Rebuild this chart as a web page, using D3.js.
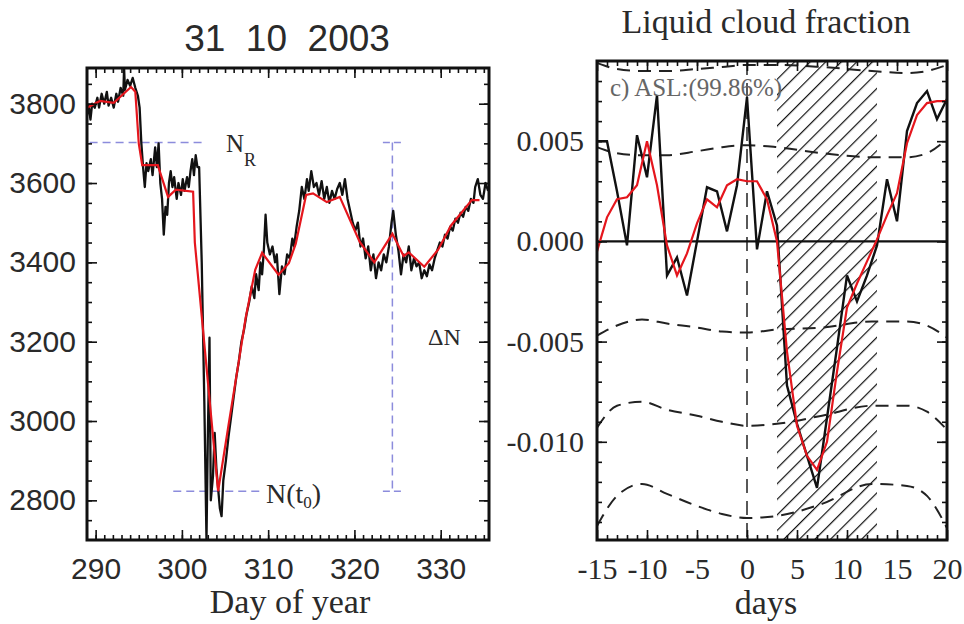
<!DOCTYPE html>
<html>
<head>
<meta charset="utf-8">
<script src="https://cdn.jsdelivr.net/npm/d3@7.9.0/dist/d3.min.js"></script>
<style>
  body { margin: 0; background: #fff; }
  svg { display: block; }
</style>
</head>
<body>
<div id="chart"></div>
<script>
// ---- left panel: counts around 31 10 2003 ----
const countDays = [
  289.0, 289.2, 289.4, 289.6, 289.9, 290.2, 290.4, 290.7, 291.0, 291.3, 291.5, 291.8, 292.1, 292.4, 292.6, 292.9,
  293.2, 293.3, 293.4, 293.7, 294.0, 294.3, 294.6, 294.9, 295.1, 295.3, 295.5, 295.7, 295.9, 296.1, 296.4, 296.6,
  296.9, 297.1, 297.3, 297.5, 297.7, 297.9, 298.1, 298.3, 298.5, 298.7, 298.9, 299.1, 299.4, 299.6, 299.9, 300.1,
  300.3, 300.6, 300.8, 301.0, 301.2, 301.4, 301.6, 301.8, 302.0, 302.3, 302.6, 302.85, 303.0, 303.2, 303.35, 303.6,
  303.8, 304.0, 304.2, 304.4, 304.6, 304.8, 305.1, 305.4, 305.7, 306.0, 306.3, 306.6, 306.9, 307.2, 307.5, 307.8,
  308.1, 308.4, 308.6, 308.9, 309.1, 309.3, 309.5, 309.7, 309.9, 310.2, 310.5, 310.8, 311.0, 311.3, 311.6, 311.9,
  312.2, 312.5, 312.8, 313.0, 313.3, 313.6, 313.9, 314.2, 314.5, 314.7, 315.0, 315.3, 315.6, 315.9, 316.2, 316.5,
  316.8, 317.1, 317.4, 317.7, 318.0, 318.3, 318.6, 318.9, 319.2, 319.5, 319.8, 320.1, 320.4, 320.7, 321.0, 321.3,
  321.6, 321.9, 322.2, 322.5, 322.8, 323.1, 323.4, 323.7, 324.0, 324.3, 324.5, 324.8, 325.1, 325.4, 325.7, 326.0,
  326.3, 326.6, 326.9, 327.2, 327.5, 327.8, 328.1, 328.4, 328.7, 329.0, 329.3, 329.6, 329.9, 330.2, 330.5, 330.8,
  331.1, 331.4, 331.7, 332.0, 332.3, 332.6, 332.9, 333.2, 333.5, 333.8, 334.0, 334.3, 334.6, 334.9, 335.2, 335.5
];
const countValues = [
  3770, 3795, 3760, 3800, 3790, 3815, 3790, 3825, 3800, 3830, 3795, 3815, 3790, 3825, 3805, 3840,
  3820, 3890, 3835, 3860, 3845, 3865, 3840, 3820, 3790, 3700, 3640, 3590, 3650, 3630, 3660, 3620,
  3690, 3640, 3700, 3600, 3560, 3470, 3540, 3520, 3600, 3630, 3590, 3615, 3560, 3600, 3570, 3610,
  3580, 3615, 3590, 3630, 3660, 3620, 3670, 3640, 3640, 3400, 3050, 2700, 2950, 3210, 2800, 2860,
  2970, 2880, 2830, 2780, 2760, 2850, 2900, 2960, 3010, 3060, 3110, 3150, 3200, 3230, 3270, 3300,
  3340, 3310, 3370, 3330, 3400, 3370, 3430, 3520, 3450, 3420, 3440, 3400, 3420, 3320, 3390, 3370,
  3420, 3410, 3460, 3440, 3490, 3530, 3590, 3560, 3610, 3580, 3630, 3590, 3600, 3570, 3605, 3560,
  3590, 3550, 3580, 3560, 3585, 3600, 3570, 3610, 3560, 3530, 3500, 3480, 3500, 3440, 3460, 3410,
  3440, 3380, 3420, 3360, 3400, 3380, 3420, 3400, 3440, 3500, 3530, 3470, 3430, 3370, 3420, 3400,
  3440, 3380, 3410, 3390, 3400, 3360, 3380, 3365, 3395, 3380, 3410, 3430, 3450, 3440, 3470, 3460,
  3490, 3480, 3510, 3500, 3525, 3515, 3540, 3530, 3560, 3550, 3590, 3610, 3570, 3560, 3600, 3580
];
const smoothDays = [
  289.0, 290.5, 292.1, 294.1, 294.6, 295.0, 295.4, 297.2, 298.4, 299.3, 301.3, 301.5, 304.2, 305.4, 306.6, 307.4,
  308.5, 309.3, 311.2, 312.4, 313.2, 314.4, 315.2, 316.8, 318.3, 320.6, 322.3, 324.4, 325.7, 326.3, 328.1, 329.7,
  331.2, 333.6, 334.5
];
const smoothValues = [
  3790, 3807, 3802, 3842, 3830, 3700, 3645, 3645, 3565, 3583, 3578, 3450, 2823, 2989, 3151, 3261,
  3381, 3424, 3369, 3398, 3447, 3570, 3574, 3552, 3565, 3452, 3400, 3472, 3416, 3425, 3389, 3432,
  3493, 3557, 3557
];
const leftXTicks = [290, 300, 310, 320, 330];
const leftYTicks = [2800, 3000, 3200, 3400, 3600, 3800];
const nRefLevel = 3702;   // N_R
const nMinLevel = 2823;   // N(t0)
const deltaDay = 324.4;   // where the delta-N bar sits

// ---- right panel: liquid cloud fraction (superposed epoch) ----
const epochDays = [-15, -14, -13, -12, -11, -10, -9, -8, -7, -6, -5, -4, -3, -2, -1, 0, 1, 2,
  3, 4, 5, 6, 7, 8, 9, 10, 11, 12, 13, 14, 15, 16, 17, 18, 19, 20];
const cloudAnomaly = [0.0050, 0.0050, 0.0025, -0.0002, 0.0053, 0.0032, 0.0073, -0.0017, -0.0008, -0.0027, 0.0000, 0.0027,
  0.0025, 0.0005, 0.0028, 0.0072, -0.0004, 0.0025, 0.0008, -0.0072, -0.0091, -0.0107, -0.0123, -0.0088,
  -0.0053, -0.0017, -0.0030, -0.0017, -0.0002, 0.0031, 0.0010, 0.0055, 0.0069, 0.0075, 0.0061, 0.0071];
const cloudSmooth = [-0.0005, 0.0012, 0.0021, 0.0022, 0.0028, 0.0050, 0.0028, -0.0002, -0.0017, -0.0006, 0.0009, 0.0021,
  0.0017, 0.0028, 0.0031, 0.0030, 0.0030, 0.0021, 0.0000, -0.0055, -0.0092, -0.0107, -0.0114, -0.0100,
  -0.0065, -0.0033, -0.0021, -0.0010, 0.0001, 0.0013, 0.0024, 0.0049, 0.0063, 0.0069, 0.0070, 0.0070];
const sigmaDays = [-15, -13, -10.5, -8, -5, -2.5, 0, 3, 7.5, 12.5, 16, 18, 20];
const sigmaLevels = [
  [0.0089, 0.0086, 0.0085, 0.0085, 0.0086, 0.0087, 0.0088, 0.0088, 0.0087, 0.0085, 0.0084, 0.0085, 0.0088],
  [0.0047, 0.0044, 0.0043, 0.0043, 0.0045, 0.0047, 0.0048, 0.0047, 0.0044, 0.0042, 0.0042, 0.0044, 0.0051],
  [-0.0047, -0.0042, -0.0039, -0.0041, -0.0043, -0.0045, -0.00455, -0.0044, -0.0043, -0.0040, -0.0040, -0.0042, -0.0048],
  [-0.0093, -0.0082, -0.0080, -0.0084, -0.0087, -0.0090, -0.0092, -0.0091, -0.0087, -0.0082, -0.0082, -0.0085, -0.0094],
  [-0.0142, -0.0127, -0.0121, -0.0126, -0.0132, -0.0136, -0.0138, -0.0137, -0.0131, -0.0121, -0.0122, -0.0127, -0.0143]
];
const hatchSpan = [3, 13];
const rightXTicks = [-15, -10, -5, 0, 5, 10, 15, 20];
const rightYTicks = [-0.010, -0.005, 0.000, 0.005];

const svg = d3.select('#chart')
  .append('svg')
  .attr('width', 964)
  .attr('height', 624);

const SANS = "'Liberation Sans', Arial, sans-serif";
const SERIF = "'Liberation Serif', 'Times New Roman', serif";
const INK = '#2a2a2a';

// inward ticks on all four sides, frame drawn on top
function drawFrame(x, y, opt) {
  const [x0, x1] = x.range();
  const [y1, y0] = y.range();
  const g = svg.append('g');

  const bottom = g.append('g').attr('transform', `translate(0,${y1})`)
    .call(d3.axisBottom(x).tickValues(opt.xMajor).tickSizeInner(-10).tickSizeOuter(0)
      .tickPadding(opt.xPad).tickFormat(opt.xFmt));
  g.append('g').attr('transform', `translate(0,${y1})`)
    .call(d3.axisBottom(x).tickValues(opt.xMinor).tickSizeInner(-5).tickSizeOuter(0).tickFormat(''));
  g.append('g').attr('transform', `translate(0,${y0})`)
    .call(d3.axisTop(x).tickValues(opt.xMajor).tickSizeInner(-10).tickSizeOuter(0).tickFormat(''));
  g.append('g').attr('transform', `translate(0,${y0})`)
    .call(d3.axisTop(x).tickValues(opt.xMinor).tickSizeInner(-5).tickSizeOuter(0).tickFormat(''));

  const left = g.append('g').attr('transform', `translate(${x0},0)`)
    .call(d3.axisLeft(y).tickValues(opt.yMajor).tickSizeInner(-10).tickSizeOuter(0)
      .tickPadding(opt.yPad).tickFormat(opt.yFmt));
  g.append('g').attr('transform', `translate(${x0},0)`)
    .call(d3.axisLeft(y).tickValues(opt.yMinor).tickSizeInner(-5).tickSizeOuter(0).tickFormat(''));
  g.append('g').attr('transform', `translate(${x1},0)`)
    .call(d3.axisRight(y).tickValues(opt.yMajor).tickSizeInner(-10).tickSizeOuter(0).tickFormat(''));
  g.append('g').attr('transform', `translate(${x1},0)`)
    .call(d3.axisRight(y).tickValues(opt.yMinor).tickSizeInner(-5).tickSizeOuter(0).tickFormat(''));

  g.selectAll('.domain').remove();
  g.selectAll('.tick line').attr('stroke', '#111').attr('stroke-width', 1.6);
  [bottom, left].forEach(a => a.selectAll('text')
    .attr('font-family', opt.font)
    .attr('font-size', opt.fontSize)
    .attr('fill', INK));

  g.append('rect')
    .attr('x', x0).attr('y', y0)
    .attr('width', x1 - x0).attr('height', y1 - y0)
    .attr('fill', 'none')
    .attr('stroke', '#111')
    .attr('stroke-width', 3);
}

function leftPanel() {
  const x = d3.scaleLinear().domain([289, 335.6]).range([87, 489]);
  const y = d3.scaleLinear().domain([2700, 3890]).range([540, 68]);

  svg.append('clipPath').attr('id', 'clipL')
    .append('rect').attr('x', 87).attr('y', 68).attr('width', 402).attr('height', 472);

  const line = d3.line().x(d => x(d[0])).y(d => y(d[1]));
  const blue = '#8c8cdc';

  // blue reference marks
  const marks = svg.append('g')
    .attr('stroke', blue)
    .attr('stroke-width', 1.5)
    .attr('stroke-dasharray', '8,5')
    .attr('fill', 'none');
  marks.append('line')
    .attr('x1', x(289.3)).attr('x2', x(302.3))
    .attr('y1', y(nRefLevel)).attr('y2', y(nRefLevel));
  marks.append('line')
    .attr('x1', x(299)).attr('x2', x(309))
    .attr('y1', y(nMinLevel)).attr('y2', y(nMinLevel));
  marks.append('line')
    .attr('x1', x(deltaDay)).attr('x2', x(deltaDay))
    .attr('y1', y(nRefLevel)).attr('y2', y(nMinLevel));
  [nRefLevel, nMinLevel].forEach(v => {
    svg.append('line')
      .attr('x1', x(deltaDay - 1.1)).attr('x2', x(deltaDay + 1.1))
      .attr('y1', y(v)).attr('y2', y(v))
      .attr('stroke', blue).attr('stroke-width', 1.5)
      .attr('stroke-dasharray', '7,4');
  });

  svg.append('path')
    .datum(countDays.map((d, i) => [d, countValues[i]]))
    .attr('d', line)
    .attr('clip-path', 'url(#clipL)')
    .attr('fill', 'none')
    .attr('stroke', '#111')
    .attr('stroke-width', 2.3)
    .attr('stroke-linejoin', 'round');

  svg.append('path')
    .datum(smoothDays.map((d, i) => [d, smoothValues[i]]))
    .attr('d', line)
    .attr('fill', 'none')
    .attr('stroke', '#e5161d')
    .attr('stroke-width', 2.2);

  drawFrame(x, y, {
    xMajor: leftXTicks, xMinor: d3.range(290, 336, 1),
    yMajor: leftYTicks, yMinor: d3.range(2750, 3890, 50),
    xPad: 18, yPad: 11,
    xFmt: d => d, yFmt: d => d,
    font: SANS, fontSize: 30
  });

  // annotations
  const nr = svg.append('text')
    .attr('x', 226).attr('y', 152)
    .attr('font-family', SERIF).attr('font-size', 25).attr('fill', INK);
  nr.append('tspan').text('N');
  nr.append('tspan').attr('dy', 14).attr('font-size', 18).text('R');

  const nt = svg.append('text')
    .attr('x', 266).attr('y', 503)
    .attr('font-family', SERIF).attr('font-size', 28).attr('fill', INK);
  nt.append('tspan').text('N(t');
  nt.append('tspan').attr('dy', 5).attr('font-size', 17).text('0');
  nt.append('tspan').attr('dy', -5).text(')');

  svg.append('text')
    .attr('x', 428).attr('y', 345)
    .attr('font-family', SERIF).attr('font-size', 24).attr('fill', INK)
    .text('\u0394N');

  svg.append('text')
    .attr('x', 287).attr('y', 51)
    .attr('text-anchor', 'middle')
    .attr('font-family', SANS).attr('font-size', 37).attr('fill', INK)
    .attr('xml:space', 'preserve')
    .text('31  10  2003');

  svg.append('text')
    .attr('x', 290).attr('y', 613)
    .attr('text-anchor', 'middle')
    .attr('font-family', SERIF).attr('font-size', 34).attr('fill', INK)
    .text('Day of year');
}

function rightPanel() {
  const x = d3.scaleLinear().domain([-15, 20]).range([597, 947]);
  const y = d3.scaleLinear().domain([-0.0149, 0.009]).range([540, 61]);

  const defs = svg.append('defs');
  defs.append('clipPath').attr('id', 'clipR')
    .append('rect').attr('x', 597).attr('y', 61).attr('width', 350).attr('height', 479);
  const pat = defs.append('pattern')
    .attr('id', 'hatch')
    .attr('patternUnits', 'userSpaceOnUse')
    .attr('width', 11).attr('height', 11)
    .attr('patternTransform', 'rotate(45)');
  pat.append('line')
    .attr('x1', 0).attr('y1', 0).attr('x2', 0).attr('y2', 11)
    .attr('stroke', '#111').attr('stroke-width', 2.4);

  svg.append('rect')
    .attr('x', x(hatchSpan[0])).attr('y', 61)
    .attr('width', x(hatchSpan[1]) - x(hatchSpan[0]))
    .attr('height', 479)
    .attr('fill', 'url(#hatch)');

  // significance envelopes
  const sigLine = d3.line().x((d, i) => x(sigmaDays[i])).y(d => y(d)).curve(d3.curveMonotoneX);
  svg.append('g').attr('clip-path', 'url(#clipR)')
    .selectAll('path')
    .data(sigmaLevels)
    .join('path')
    .attr('d', sigLine)
    .attr('fill', 'none')
    .attr('stroke', '#222')
    .attr('stroke-width', 2)
    .attr('stroke-dasharray', '13,8');

  svg.append('line')
    .attr('x1', x(0)).attr('x2', x(0))
    .attr('y1', 61).attr('y2', 540)
    .attr('stroke', '#222')
    .attr('stroke-width', 1.5)
    .attr('stroke-dasharray', '14,8');

  svg.append('line')
    .attr('x1', 597).attr('x2', 947)
    .attr('y1', y(0)).attr('y2', y(0))
    .attr('stroke', '#111')
    .attr('stroke-width', 2.2);

  const line = d3.line().x((d, i) => x(epochDays[i])).y(d => y(d));
  svg.append('path')
    .datum(cloudAnomaly)
    .attr('d', line)
    .attr('fill', 'none')
    .attr('stroke', '#111')
    .attr('stroke-width', 2.4);
  svg.append('path')
    .datum(cloudSmooth)
    .attr('d', line)
    .attr('fill', 'none')
    .attr('stroke', '#e5161d')
    .attr('stroke-width', 2.2);

  drawFrame(x, y, {
    xMajor: rightXTicks, xMinor: d3.range(-14, 20, 1),
    yMajor: rightYTicks, yMinor: d3.range(-0.014, 0.0085, 0.001),
    xPad: 18, yPad: 13,
    xFmt: d => d, yFmt: d => d.toFixed(3),
    font: SERIF, fontSize: 30
  });

  svg.append('text')
    .attr('x', 610).attr('y', 96)
    .attr('font-family', SERIF).attr('font-size', 25).attr('fill', '#666')
    .text('c) ASL:(99.86%)');

  svg.append('text')
    .attr('x', 766).attr('y', 33)
    .attr('text-anchor', 'middle')
    .attr('font-family', SERIF).attr('font-size', 34).attr('fill', INK)
    .text('Liquid cloud fraction');

  svg.append('text')
    .attr('x', 766).attr('y', 614)
    .attr('text-anchor', 'middle')
    .attr('font-family', SERIF).attr('font-size', 34).attr('fill', INK)
    .text('days');
}

leftPanel();
rightPanel();
</script>
</body>
</html>
